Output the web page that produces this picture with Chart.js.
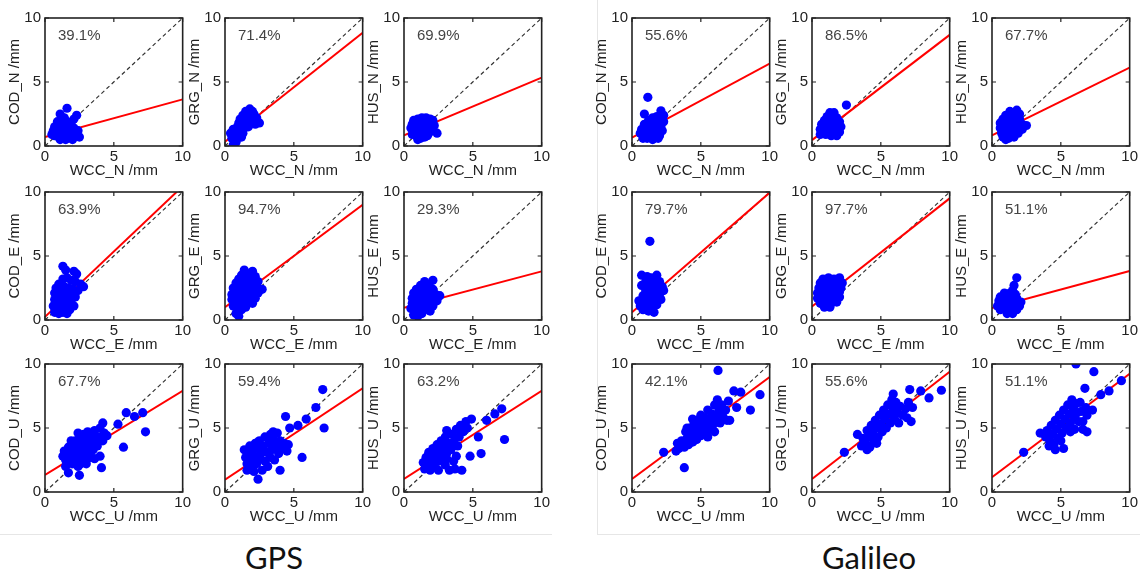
<!DOCTYPE html>
<html><head><meta charset="utf-8">
<script src="https://cdn.jsdelivr.net/npm/chart.js@4.4.0/dist/chart.umd.min.js"></script>
<style>
html,body{margin:0;padding:0;background:#fff;width:1140px;height:579px;overflow:hidden;}
body{position:relative;font-family:'Liberation Sans',Arial,sans-serif;}
canvas{position:absolute;}
.sys{position:absolute;font-family:Lato,'Open Sans',sans-serif;font-size:31px;color:#111;transform:translateX(-50%);top:538px;white-space:nowrap;}
.rule{position:absolute;background:#e6e6e6;}
</style></head><body>
<div class="rule" style="left:597px;top:0;width:1px;height:534px"></div>
<div class="rule" style="left:0;top:534px;width:552px;height:1px"></div>
<div class="rule" style="left:597px;top:534px;width:543px;height:1px"></div>
<div class="sys" style="left:274px">GPS</div>
<div class="sys" style="left:869px">Galileo</div>
<script>
// ---------- labels ----------
const centers = ['COD', 'GRG', 'HUS'];
const components = ['N', 'E', 'U'];
const tickValues = [0, 5, 10];
const gpsPercent = ['39.1%', '71.4%', '69.9%', '63.9%', '94.7%', '29.3%', '67.7%', '59.4%', '63.2%'];
const galPercent = ['55.6%', '86.5%', '67.7%', '79.7%', '97.7%', '51.1%', '42.1%', '55.6%', '51.1%'];
// regression line values at WCC = 0 and WCC = 10 (order: N row, E row, U row; COD, GRG, HUS)
const gpsFitAt0 = [0.70, 0.33, 0.84, 0.25, 1.00, 0.96, 1.33, 0.97, 1.02];
const gpsFitAt10 = [3.64, 8.85, 5.34, 10.45, 9.00, 3.80, 7.90, 8.10, 7.90];
const galFitAt0 = [0.66, 0.46, 0.84, 0.60, 1.06, 0.93, 1.02, 1.02, 1.15];
const galFitAt10 = [6.44, 8.68, 6.13, 9.95, 9.50, 3.83, 8.98, 9.39, 9.23];

// ---------- GPS scatter data [WCC, AC] ----------
const gpsCodN = [[1.6,2.95],[1.1,2.5],[2.3,2.4],[2.1,2.1],[1.4,2.2],[0.9,1.9],[1.2,1.8],[1.6,1.9],[1.9,1.7],[0.7,1.5],[1.0,1.5],[1.3,1.4],[1.7,1.5],[2.1,1.4],[0.6,1.2],[0.9,1.1],[1.2,1.0],[1.5,1.1],[1.8,1.2],[2.2,1.1],[0.7,0.8],[1.0,0.7],[1.3,0.6],[1.6,0.8],[1.9,0.7],[2.3,0.8],[2.5,0.7],[1.1,0.5],[1.5,0.5],[2.0,0.5],[0.8,1.3],[1.4,1.6],[1.1,1.2],[1.6,1.3],[2.4,1.2],[0.5,0.9]];
const gpsGrgN = [[0.6,0.1],[0.8,0.3],[0.5,0.6],[0.9,0.6],[0.4,1.0],[0.7,0.9],[1.0,0.9],[0.8,1.2],[1.1,1.2],[1.3,1.0],[0.9,1.5],[1.2,1.5],[1.4,1.4],[1.0,1.8],[1.3,1.8],[1.5,1.7],[1.7,1.5],[1.1,2.1],[1.4,2.1],[1.6,2.0],[1.9,1.9],[1.3,2.4],[1.6,2.4],[1.8,2.2],[2.1,2.1],[1.5,2.7],[1.8,2.9],[2.1,2.5],[2.3,2.2],[2.5,1.8],[2.2,1.7],[2.0,2.7],[1.2,0.7],[0.6,1.3]];
const gpsHusN = [[0.5,1.4],[0.6,1.7],[0.7,1.1],[0.8,1.9],[0.9,1.5],[0.9,0.8],[1.0,2.1],[1.1,1.7],[1.1,1.2],[1.2,0.6],[1.3,2.2],[1.3,1.5],[1.4,1.0],[1.5,1.9],[1.6,2.2],[1.6,1.3],[1.7,0.8],[1.8,1.7],[1.9,2.1],[1.9,1.2],[2.0,1.6],[2.1,2.0],[0.7,2.0],[1.0,0.5],[1.5,0.7],[2.4,1.0],[1.2,1.9],[0.6,0.9],[1.8,1.0],[2.2,1.6]];
const gpsCodE = [[1.3,4.2],[1.5,3.9],[2.1,3.8],[2.3,3.6],[1.0,2.8],[1.3,3.2],[1.6,3.3],[1.9,3.1],[2.2,3.0],[2.6,2.8],[2.8,2.6],[0.8,2.5],[1.1,2.4],[1.4,2.6],[1.7,2.5],[2.0,2.4],[2.4,2.3],[0.7,2.1],[1.0,2.0],[1.3,2.0],[1.6,2.0],[1.9,1.9],[2.2,1.8],[0.7,1.6],[1.0,1.5],[1.3,1.5],[1.6,1.4],[1.9,1.3],[2.1,1.1],[0.6,1.1],[0.9,1.0],[1.2,1.0],[1.5,0.9],[1.8,0.8],[0.7,0.6],[1.0,0.5],[1.3,0.6],[1.6,0.5]];
const gpsGrgE = [[1.4,3.9],[1.2,3.5],[1.7,3.6],[2.0,3.8],[2.2,3.4],[1.0,3.2],[1.4,3.1],[1.8,3.2],[2.4,3.0],[0.8,2.9],[1.1,2.8],[1.5,2.7],[1.9,2.8],[2.3,2.6],[2.7,2.4],[0.6,2.5],[0.9,2.4],[1.2,2.3],[1.6,2.3],[2.0,2.2],[2.4,2.1],[0.5,2.0],[0.8,1.9],[1.1,1.9],[1.4,1.8],[1.8,1.8],[2.2,1.7],[0.5,1.6],[0.8,1.4],[1.1,1.4],[1.4,1.3],[1.7,1.4],[2.0,1.3],[0.6,1.1],[0.9,0.9],[1.2,0.8],[1.5,1.0],[0.8,0.5],[1.0,0.3]];
const gpsHusE = [[1.5,3.0],[2.1,3.1],[1.2,2.7],[1.8,2.8],[0.9,2.4],[1.3,2.4],[1.7,2.5],[2.1,2.4],[0.7,2.1],[1.0,2.0],[1.4,2.1],[1.8,2.0],[2.3,2.0],[2.6,1.9],[0.6,1.7],[0.9,1.7],[1.2,1.6],[1.6,1.6],[2.0,1.5],[2.4,1.5],[0.6,1.3],[0.9,1.2],[1.3,1.2],[1.7,1.1],[2.1,1.1],[0.5,0.9],[0.8,0.8],[1.1,0.7],[1.5,0.8],[1.9,0.7],[0.7,0.4],[1.0,0.3],[1.3,0.5]];
const gpsCodU = [[1.3,2.8],[1.4,3.2],[1.5,2.5],[1.6,3.0],[1.7,3.5],[1.8,2.6],[1.9,3.1],[2.0,2.2],[2.0,3.7],[2.1,2.8],[2.2,3.3],[2.2,4.0],[2.3,2.5],[2.4,3.0],[2.5,3.6],[2.5,4.3],[2.6,2.2],[2.7,3.2],[2.8,3.9],[2.8,4.5],[2.9,2.7],[3.0,3.5],[3.1,4.1],[3.1,4.7],[3.2,3.0],[3.3,3.8],[3.4,4.4],[3.5,3.3],[3.6,4.0],[3.6,4.8],[3.8,3.6],[3.9,4.3],[4.0,5.0],[4.2,4.0],[4.3,4.6],[4.2,5.4],[4.5,4.4],[2.4,2.0],[3.0,2.2],[3.6,2.6],[1.7,1.5],[2.5,1.3],[4.0,2.8],[4.1,1.9],[5.3,5.3],[5.9,6.2],[6.5,5.9],[7.1,6.2],[7.3,4.7],[5.7,3.5],[1.5,2.0],[2.7,2.6],[3.3,2.7],[1.9,4.0],[2.4,4.6]];
const gpsGrgU = [[1.4,3.3],[1.5,2.7],[1.6,2.2],[1.7,3.0],[1.8,3.6],[1.9,2.5],[2.0,1.9],[2.0,3.2],[2.1,2.8],[2.2,3.8],[2.3,2.2],[2.4,3.4],[2.5,2.6],[2.5,4.0],[2.6,3.0],[2.7,1.7],[2.8,3.6],[2.9,2.4],[2.9,4.3],[3.0,3.1],[3.1,2.0],[3.2,3.8],[3.3,2.7],[3.3,4.5],[3.4,3.3],[3.5,4.1],[3.6,2.5],[3.7,3.6],[3.8,4.6],[3.9,3.0],[4.0,4.0],[4.1,3.4],[4.3,3.8],[4.5,3.2],[4.6,3.7],[2.1,1.6],[1.6,1.7],[3.5,4.7],[2.4,3.9],[2.2,2.4],[7.1,8.0],[6.6,6.6],[5.9,5.7],[4.4,5.9],[7.2,5.0],[5.6,2.7],[4.0,1.7],[2.4,1.0],[5.3,5.2],[4.7,5.0]];
const gpsHusU = [[1.4,2.3],[1.5,1.8],[1.6,2.7],[1.7,2.1],[1.8,3.1],[1.9,1.7],[2.0,2.5],[2.1,3.4],[2.2,2.0],[2.3,2.9],[2.4,3.7],[2.5,1.7],[2.5,2.4],[2.6,3.2],[2.7,4.0],[2.8,2.7],[2.9,3.5],[3.0,2.1],[3.0,4.3],[3.1,3.0],[3.2,3.8],[3.3,1.7],[3.4,3.3],[3.5,4.5],[3.6,2.4],[3.6,3.9],[3.8,4.9],[3.9,3.6],[4.0,4.3],[4.1,5.2],[4.3,4.7],[4.5,5.5],[4.6,5.0],[3.7,1.8],[2.2,2.7],[3.1,2.6],[3.8,2.8],[7.1,6.5],[6.6,6.1],[6.0,5.6],[7.3,4.1],[5.6,3.0],[4.8,2.8],[4.9,5.7],[5.4,4.3],[3.1,4.8],[4.2,1.7]];

// ---------- Galileo scatter data [WCC, AC] ----------
const galCodN = [[1.15,3.8],[0.9,2.5],[2.1,2.75],[2.3,2.4],[1.8,2.3],[1.5,2.2],[1.2,2.0],[1.6,1.9],[2.0,1.9],[2.3,1.9],[0.9,1.7],[1.3,1.6],[1.7,1.6],[2.1,1.5],[0.7,1.3],[1.0,1.3],[1.4,1.3],[1.8,1.2],[2.2,1.2],[0.6,1.0],[0.9,0.9],[1.2,0.9],[1.6,0.9],[2.0,0.8],[0.8,0.6],[1.1,0.6],[1.5,0.5],[1.9,0.6],[1.3,1.1]];
const galGrgN = [[2.5,3.2],[1.3,2.6],[1.6,2.6],[1.1,2.3],[1.5,2.3],[1.8,2.2],[0.9,2.0],[1.2,2.0],[1.6,1.9],[2.0,1.9],[0.7,1.7],[1.0,1.6],[1.4,1.6],[1.8,1.6],[2.1,1.5],[0.6,1.3],[0.9,1.2],[1.3,1.3],[1.7,1.2],[2.0,1.1],[0.6,0.9],[1.0,0.9],[1.4,0.8],[1.8,0.8],[1.1,1.0]];
const galHusN = [[1.3,2.7],[1.8,2.8],[1.0,2.4],[1.5,2.5],[2.0,2.5],[0.8,2.1],[1.2,2.1],[1.6,2.2],[2.0,2.1],[0.6,1.8],[1.0,1.8],[1.4,1.8],[1.8,1.8],[2.2,1.7],[2.5,1.6],[0.6,1.4],[1.0,1.4],[1.4,1.4],[1.8,1.4],[2.2,1.3],[0.7,1.0],[1.1,1.0],[1.5,1.0],[1.9,1.0],[0.8,0.7],[1.2,0.6],[1.6,0.7],[1.0,0.5]];
const galCodE = [[1.3,6.15],[0.7,3.5],[1.1,3.4],[1.4,3.3],[1.8,3.5],[1.0,3.0],[1.5,3.0],[2.0,3.0],[0.7,2.7],[1.2,2.6],[1.7,2.7],[2.2,2.6],[1.0,2.3],[1.4,2.2],[1.9,2.3],[2.3,2.3],[0.8,1.9],[1.2,1.9],[1.6,1.9],[2.0,2.0],[0.5,1.5],[0.9,1.5],[1.3,1.5],[1.7,1.5],[2.1,1.6],[0.6,1.1],[1.0,1.1],[1.4,1.1],[1.8,1.2],[0.8,0.8],[1.2,0.7],[1.6,0.6],[0.6,1.3]];
const galGrgE = [[0.8,3.2],[1.2,3.3],[1.6,3.2],[2.0,3.3],[0.6,2.9],[1.0,2.9],[1.4,2.9],[1.8,2.9],[2.2,2.9],[0.5,2.5],[0.9,2.5],[1.3,2.5],[1.7,2.5],[2.1,2.5],[0.4,2.1],[0.8,2.1],[1.2,2.1],[1.6,2.1],[2.0,2.2],[0.4,1.7],[0.8,1.7],[1.2,1.7],[1.6,1.7],[2.0,1.8],[0.6,1.3],[1.0,1.3],[1.4,1.3],[1.8,1.4],[0.9,1.0],[1.3,1.0]];
const galHusE = [[1.8,3.3],[1.6,2.7],[1.5,2.3],[0.9,2.1],[1.3,2.1],[1.7,2.0],[0.6,1.8],[1.0,1.8],[1.4,1.8],[1.8,1.7],[0.5,1.5],[0.9,1.4],[1.3,1.4],[1.7,1.4],[2.1,1.4],[0.4,1.1],[0.8,1.1],[1.2,1.1],[1.6,1.0],[2.0,1.1],[0.6,0.8],[1.0,0.8],[1.4,0.7],[1.8,0.8],[1.1,0.5],[1.5,0.5]];
const galCodU = [[3.4,3.4],[3.6,4.0],[3.8,3.5],[3.9,4.7],[4.0,4.2],[4.1,3.7],[4.2,5.0],[4.3,4.4],[4.4,3.9],[4.5,5.3],[4.6,4.7],[4.7,4.1],[4.8,5.6],[4.9,5.0],[5.0,4.4],[5.0,6.0],[5.1,5.3],[5.2,4.7],[5.3,5.8],[5.4,5.1],[5.5,4.3],[5.5,6.4],[5.6,5.6],[5.7,4.9],[5.8,6.1],[5.9,5.3],[6.0,6.8],[6.0,4.7],[6.1,5.8],[6.2,7.2],[6.3,6.3],[6.4,5.4],[6.5,6.8],[6.6,5.9],[6.8,6.4],[6.9,5.6],[7.0,7.1],[4.5,4.0],[5.8,5.0],[4.0,5.0],[4.4,5.7],[3.3,3.8],[6.25,9.5],[2.3,3.1],[3.2,3.2],[3.8,1.9],[9.3,7.6],[8.6,6.4],[7.4,7.9],[7.9,7.8],[7.6,6.6],[7.1,5.6]];
const galGrgU = [[3.6,3.6],[3.7,4.2],[3.9,3.8],[4.0,4.8],[4.1,4.3],[4.2,3.5],[4.3,5.2],[4.4,4.6],[4.5,4.0],[4.6,5.6],[4.7,5.0],[4.8,4.3],[4.9,6.0],[5.0,5.3],[5.1,4.7],[5.2,6.4],[5.3,5.7],[5.4,5.0],[5.5,6.8],[5.6,6.1],[5.7,5.4],[5.8,7.2],[5.9,6.5],[6.0,5.7],[6.1,7.0],[6.2,6.2],[6.3,5.4],[6.4,6.7],[6.6,6.0],[6.8,6.5],[6.9,5.8],[7.0,7.0],[4.4,5.0],[5.2,5.9],[6.0,6.2],[4.0,3.3],[4.7,3.8],[2.35,3.1],[3.3,4.5],[9.4,7.95],[8.5,7.35],[7.3,6.6],[7.2,5.5],[7.9,7.9],[7.1,8.0],[5.9,7.65]];
const galHusU = [[3.9,4.3],[4.0,4.8],[4.2,4.0],[4.3,5.2],[4.4,4.5],[4.5,3.7],[4.6,5.6],[4.7,4.9],[4.8,4.2],[4.9,6.0],[5.0,5.3],[5.1,4.6],[5.2,6.4],[5.3,5.7],[5.4,5.0],[5.5,6.8],[5.6,6.1],[5.7,5.4],[5.8,7.2],[5.9,6.5],[6.0,5.8],[6.1,6.9],[6.2,6.2],[6.3,5.5],[6.4,7.0],[6.5,6.3],[6.6,5.5],[6.8,6.6],[6.9,6.0],[5.2,3.4],[5.7,4.7],[6.0,4.9],[6.6,4.9],[4.6,3.3],[5.0,4.0],[6.1,10.0],[7.4,9.4],[2.3,3.1],[9.4,8.7],[8.5,7.9],[7.9,7.6],[6.75,8.1],[6.9,4.7],[7.3,6.4],[4.15,3.6],[3.5,4.6]];

const gpsData = [gpsCodN, gpsGrgN, gpsHusN, gpsCodE, gpsGrgE, gpsHusE, gpsCodU, gpsGrgU, gpsHusU];
const galData = [galCodN, galGrgN, galHusN, galCodE, galGrgE, galHusE, galCodU, galGrgU, galHusU];

// ---------- layout ----------
const boxLeftGps = [45, 225, 404];
const boxLeftGal = [632, 812, 992];
const boxTop = [15, 189, 361];
const BOX_W = 138, BOX_H = 131, AXIS_W = 45, AXIS_H = 38, PAD_T = 10, PAD_R = 10;
const FONT = "'Liberation Sans', Arial, sans-serif";

const deco = {
  id: 'panelDeco',
  afterDraw(chart, args, opts) {
    const {ctx, chartArea: a, scales: {x, y}} = chart;
    ctx.save();
    ctx.strokeStyle = '#222';
    ctx.lineWidth = 1.2;
    ctx.beginPath();
    tickValues.forEach(v => {
      const px = x.getPixelForValue(v), py = y.getPixelForValue(v);
      ctx.moveTo(px, a.bottom); ctx.lineTo(px, a.bottom - 4);
      ctx.moveTo(px, a.top); ctx.lineTo(px, a.top + 4);
      ctx.moveTo(a.left, py); ctx.lineTo(a.left + 4, py);
      ctx.moveTo(a.right, py); ctx.lineTo(a.right - 4, py);
    });
    ctx.stroke();
    ctx.lineWidth = 1.6;
    ctx.strokeRect(a.left, a.top, a.right - a.left, a.bottom - a.top);
    ctx.font = '15px ' + FONT;
    ctx.fillStyle = '#444';
    ctx.textAlign = 'left';
    ctx.textBaseline = 'middle';
    ctx.fillText(opts.pct, a.left + 13, a.top + 18);
    ctx.restore();
  }
};

function makePanel(left, top, pts, pct, f0, f10, center, comp) {
  const cv = document.createElement('canvas');
  const w = AXIS_W + BOX_W + PAD_R, h = PAD_T + BOX_H + AXIS_H;
  cv.width = w; cv.height = h;
  cv.style.left = (left - AXIS_W) + 'px';
  cv.style.top = (top - PAD_T) + 'px';
  cv.style.width = w + 'px'; cv.style.height = h + 'px';
  document.body.appendChild(cv);
  const tickFont = {family: FONT, size: 15};
  new Chart(cv, {
    type: 'scatter',
    data: {datasets: [
      {label: 'obs', data: pts.map(p => ({x: p[0], y: p[1]})), backgroundColor: '#0000ff', borderColor: '#0000ff', borderWidth: 0, pointRadius: 4.6, pointHoverRadius: 4.6, order: 0, clip: 0},
      {label: 'fit', data: [{x: 0, y: f0}, {x: 10, y: f10}], showLine: true, borderColor: '#ff0000', borderWidth: 2, pointRadius: 0, order: 1, clip: 0},
      {label: '1:1', data: [{x: 0, y: 0}, {x: 10, y: 10}], showLine: true, borderColor: '#333', borderWidth: 1.2, borderDash: [4, 3], pointRadius: 0, order: 2, clip: 0}
    ]},
    options: {
      responsive: false, animation: false, devicePixelRatio: 1,
      events: [],
      layout: {padding: {left: 0, top: PAD_T, right: PAD_R, bottom: 0}},
      plugins: {legend: {display: false}, tooltip: {enabled: false}, panelDeco: {pct: pct}},
      scales: {
        x: {
          type: 'linear', min: 0, max: 10,
          afterFit: s => { s.height = AXIS_H; },
          ticks: {stepSize: 5, padding: 2, color: '#222', font: tickFont, maxRotation: 0, autoSkip: false},
          grid: {display: false, drawTicks: false}, border: {display: false},
          title: {display: true, text: 'WCC_' + comp + ' /mm', color: '#222', font: tickFont, padding: {top: 0, bottom: 4}}
        },
        y: {
          type: 'linear', min: 0, max: 10,
          afterFit: s => { s.width = AXIS_W; },
          ticks: {stepSize: 5, padding: 4, color: '#222', font: tickFont, autoSkip: false},
          grid: {display: false, drawTicks: false}, border: {display: false},
          title: {display: true, text: center + '_' + comp + ' /mm', color: '#222', font: tickFont, padding: {top: 6, bottom: 0}}
        }
      }
    },
    plugins: [deco]
  });
}

for (let r = 0; r < 3; r++) {
  for (let c = 0; c < 3; c++) {
    const i = r * 3 + c;
    makePanel(boxLeftGps[c], boxTop[r], gpsData[i], gpsPercent[i], gpsFitAt0[i], gpsFitAt10[i], centers[c], components[r]);
    makePanel(boxLeftGal[c], boxTop[r], galData[i], galPercent[i], galFitAt0[i], galFitAt10[i], centers[c], components[r]);
  }
}
</script>
</body></html>
